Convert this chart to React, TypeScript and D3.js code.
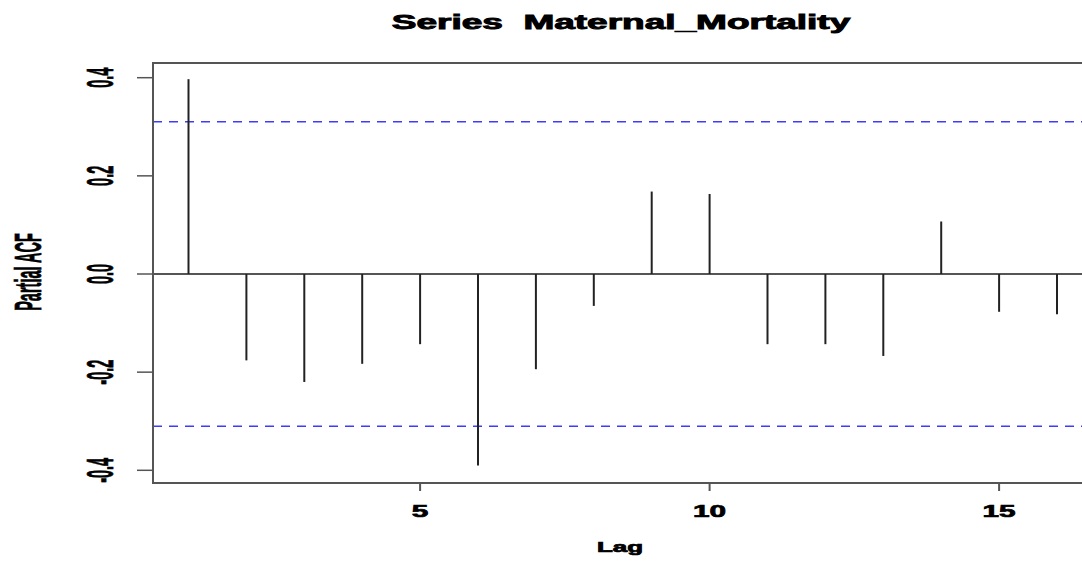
import React from "react";
import { scaleLinear } from "d3";

// partial autocorrelations, lags 1..16
const lags = [1, 2, 3, 4, 5, 6, 7, 8, 9, 10, 11, 12, 13, 14, 15, 16];
const pacf = [0.397, -0.176, -0.22, -0.183, -0.143, -0.39, -0.194, -0.065, 0.168, 0.163, -0.143, -0.143, -0.167, 0.107, -0.077, -0.082];
const ciBound = 0.31;
const xTicks = [5, 10, 15];
const yTicks = [-0.4, -0.2, 0, 0.2, 0.4];
const title = "Series  Maternal_Mortality";

const width = 1082;
const height = 561;
const box = { left: 153, top: 63, right: 1095, bottom: 483 };
const font = "'Liberation Sans', Arial, Helvetica, sans-serif";

// R's bold labels look heavy once stretched, a thin outline thickens them
const heavy = { fontFamily: font, fontWeight: "bold", fill: "#000", stroke: "#000", whiteSpace: "pre" } as const;

const App = () => {
  const x = scaleLinear().domain([1, 16]).range([188.5, 1057]);
  const y = scaleLinear().domain([-0.4, 0.4]).range([470.3, 77.7]);

  return (
    <svg width={width} height={height} style={{ position: "absolute", left: 0, top: 0, background: "#fff" }}>
      {/* title */}
      <text
        transform={`translate(621, 29) scale(1.85, 1)`}
        textAnchor="middle"
        fontSize={20}
        strokeWidth={0.9}
        style={heavy}
      >
        {title}
      </text>

      {/* confidence bounds */}
      {[ciBound, -ciBound].map((v, i) => (
        <line key={i} x1={box.left} x2={box.right} y1={y(v)} y2={y(v)}
          stroke="#3c3cff" strokeWidth={1.5} strokeDasharray="9,7" />
      ))}

      {/* zero line */}
      <line x1={box.left} x2={box.right} y1={y(0)} y2={y(0)} stroke="#555" strokeWidth={2} />

      {/* spikes */}
      {pacf.map((v, i) => (
        <line key={i} x1={x(lags[i])} x2={x(lags[i])} y1={y(0)} y2={y(v)} stroke="#222" strokeWidth={2} />
      ))}

      {/* frame */}
      <rect x={box.left} y={box.top} width={box.right - box.left} height={box.bottom - box.top}
        fill="none" stroke="#555" strokeWidth={2} />

      {/* y axis */}
      {yTicks.map((t, i) => (
        <g key={i}>
          <line x1={137} x2={box.left} y1={y(t)} y2={y(t)} stroke="#555" strokeWidth={1.5} />
          <text
            transform={`translate(113, ${y(t)}) scale(2.5, 1) rotate(-90)`}
            textAnchor="middle"
            fontSize={14.5}
            strokeWidth={0.3}
            style={heavy}
          >
            {t.toFixed(1)}
          </text>
        </g>
      ))}
      <text
        transform={`translate(41, 272) scale(2.55, 1) rotate(-90)`}
        textAnchor="middle"
        fontSize={14.5}
        strokeWidth={0.3}
        style={heavy}
      >
        Partial ACF
      </text>

      {/* x axis */}
      {xTicks.map((t, i) => (
        <g key={i}>
          <line x1={x(t)} x2={x(t)} y1={box.bottom} y2={box.bottom + 8} stroke="#555" strokeWidth={2} />
          <text
            transform={`translate(${x(t)}, 517) scale(1.75, 1)`}
            textAnchor="middle"
            fontSize={17}
            strokeWidth={0.7}
            style={heavy}
          >
            {t}
          </text>
        </g>
      ))}
      <text
        transform={`translate(620, 552) scale(1.85, 1)`}
        textAnchor="middle"
        fontSize={14}
        strokeWidth={0.7}
        style={heavy}
      >
        Lag
      </text>
    </svg>
  );
};

export default App;
